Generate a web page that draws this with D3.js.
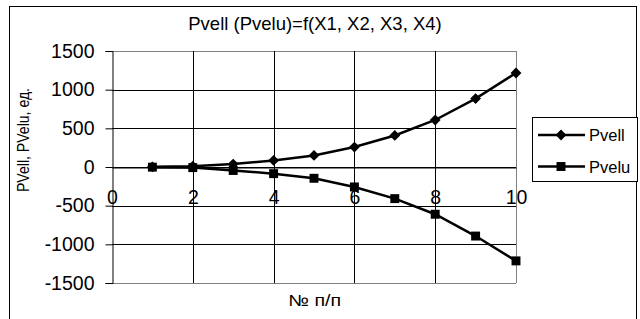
<!DOCTYPE html>
<html>
<head>
<meta charset="utf-8">
<script src="https://cdn.jsdelivr.net/npm/d3@7"></script>
<style>
body { margin: 0; background: #fff; }
text { font-family: "Liberation Sans", Arial, sans-serif; fill: #000; }
</style>
</head>
<body>
<svg width="640" height="319"></svg>
<script>
// data
var nums = [1, 2, 3, 4, 5, 6, 7, 8, 9, 10];
var pvell = [2, 10, 38, 85, 150, 258, 408, 608, 885, 1215];
var pvelu = [-2, -8, -45, -86, -146, -258, -409, -611, -893, -1214];
var seriesNames = ["Pvell", "Pvelu"];
var yTicks = [-1500, -1000, -500, 0, 500, 1000, 1500];
var xTicks = [0, 2, 4, 6, 8, 10];

var svg = d3.select("svg");

// outer chart frame
svg.append("rect")
    .attr("x", 9.5).attr("y", 6.5)
    .attr("width", 627).attr("height", 330)
    .style("fill", "#fff").style("stroke", "#000").style("stroke-width", 1);

var xScale = d3.scaleLinear().domain([0, 10]).range([112, 516]);
var yScale = d3.scaleLinear().domain([-1500, 1500]).range([283, 51]);

// title
svg.append("text")
    .attr("x", 315).attr("y", 30)
    .attr("text-anchor", "middle")
    .style("font-size", "18.5px")
    .text("Pvell (Pvelu)=f(X1, X2, X3, X4)");

// gridlines
svg.append("g").selectAll("line.h")
    .data(yTicks)
    .enter().append("line")
    .attr("x1", xScale(0)).attr("x2", xScale(10))
    .attr("y1", function(d) { return Math.round(yScale(d)) + 0.5; })
    .attr("y2", function(d) { return Math.round(yScale(d)) + 0.5; })
    .style("stroke", function(d) { return (d == 1500 || d == -1500) ? "#808080" : "#000"; })
    .style("stroke-width", 1);

svg.append("g").selectAll("line.v")
    .data(xTicks.slice(1))
    .enter().append("line")
    .attr("x1", function(d) { return Math.round(xScale(d)) + 0.5; })
    .attr("x2", function(d) { return Math.round(xScale(d)) + 0.5; })
    .attr("y1", yScale(1500)).attr("y2", yScale(-1500))
    .style("stroke", function(d) { return d == 10 ? "#808080" : "#000"; })
    .style("stroke-width", 1);

// y axis
var yAxis = svg.append("g")
    .attr("transform", "translate(" + (xScale(0) + 0.5) + ",0)")
    .call(d3.axisLeft(yScale).tickValues(yTicks).tickSize(7).tickPadding(11)
        .tickFormat(function(d) { return String(d); }));
yAxis.select(".domain").style("stroke", "#000");
yAxis.selectAll("line").style("stroke", "#000");
yAxis.selectAll("text").style("font-size", "19.5px").style("font-family", "Liberation Sans, Arial, sans-serif");

// x axis on zero line
var xAxis = svg.append("g")
    .attr("transform", "translate(0," + (Math.round(yScale(0)) + 0.5) + ")")
    .call(d3.axisBottom(xScale).tickValues(xTicks).tickSize(0).tickPadding(23)
        .tickFormat(function(d) { return String(d); }));
xAxis.select(".domain").style("stroke", "#000");
xAxis.selectAll("text").style("font-size", "19.5px").style("font-family", "Liberation Sans, Arial, sans-serif");

// axis titles
svg.append("text")
    .attr("x", 314.5).attr("y", 306)
    .attr("text-anchor", "middle")
    .attr("textLength", 53).attr("lengthAdjust", "spacingAndGlyphs")
    .style("font-size", "16px")
    .text("№ п/п");

svg.append("text")
    .attr("text-anchor", "middle")
    .attr("transform", "translate(29,140)rotate(-90)")
    .attr("textLength", 104).attr("lengthAdjust", "spacingAndGlyphs")
    .style("font-size", "16px")
    .text("PVell, PVelu, ед.");

// lines
var line = d3.line()
    .x(function(d, i) { return xScale(nums[i]); })
    .y(function(d) { return yScale(d); });

[pvell, pvelu].forEach(function(s) {
    svg.append("path")
        .datum(s)
        .attr("d", line)
        .style("fill", "none")
        .style("stroke", "#000")
        .style("stroke-width", 2.5);
});

var diamond = d3.symbol().type(d3.symbolDiamond2).size(75);
var square = d3.symbol().type(d3.symbolSquare).size(80);

svg.append("g").selectAll("path")
    .data(pvell)
    .enter().append("path")
    .attr("d", diamond)
    .attr("transform", function(d, i) { return "translate(" + xScale(nums[i]) + "," + yScale(d) + ")"; })
    .style("fill", "#000");

svg.append("g").selectAll("path")
    .data(pvelu)
    .enter().append("path")
    .attr("d", square)
    .attr("transform", function(d, i) { return "translate(" + xScale(nums[i]) + "," + yScale(d) + ")"; })
    .style("fill", "#000");

// legend
var lg = svg.append("g");
lg.append("rect")
    .attr("x", 532.5).attr("y", 117.5)
    .attr("width", 105).attr("height", 64)
    .style("fill", "#fff").style("stroke", "#000");

var shapes = [diamond, square];
seriesNames.forEach(function(name, i) {
    var yy = 135 + i * 31.5;
    lg.append("line")
        .attr("x1", 538).attr("x2", 585)
        .attr("y1", yy).attr("y2", yy)
        .style("stroke", "#000").style("stroke-width", 2.5);
    lg.append("path")
        .attr("d", shapes[i])
        .attr("transform", "translate(561," + yy + ")")
        .style("fill", "#000");
    lg.append("text")
        .attr("x", 589).attr("y", yy + 6)
        .style("font-size", "16.5px")
        .text(name);
});
</script>
</body>
</html>
